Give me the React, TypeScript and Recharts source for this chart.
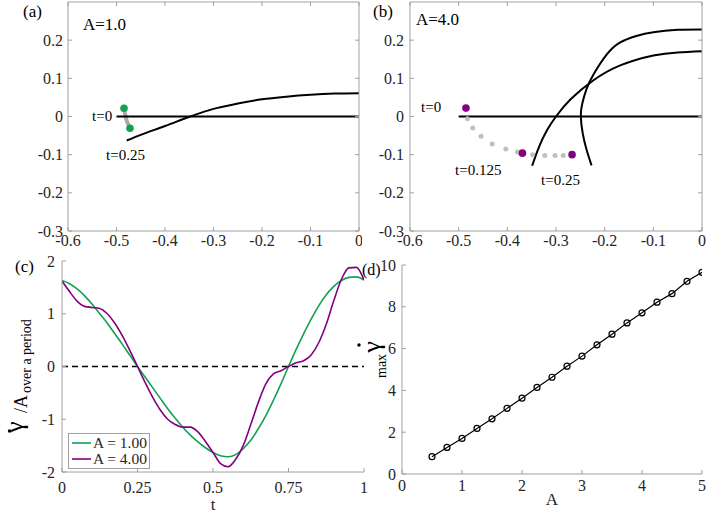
import React from 'react';
import { ComposedChart, Line, Scatter, XAxis, YAxis, ReferenceLine, Legend, Customized } from 'recharts';

const FONT = 'Liberation Serif, Times New Roman, Times, serif';
const AXIS = '#a0a0a0';
const TXT = '#262626';
const GREEN = '#12a150';
const PURPLE = '#820082';
const GRAY_DOT = '#c0c0c0';
const GRAY_PATH = '#aaaaaa';

// ---------- panels (a) and (b) ----------
const xTicksAB = [-0.6, -0.5, -0.4, -0.3, -0.2, -0.1, 0];
const yTicksAB = [-0.3, -0.2, -0.1, 0, 0.1, 0.2];

const baseLineA = [{ x: -0.5, y: 0 }, { x: 0, y: 0 }];
const filamentA = [
  { x: -0.479, y: -0.063 }, { x: -0.45, y: -0.048 }, { x: -0.4, y: -0.025 }, { x: -0.348, y: 0 },
  { x: -0.3, y: 0.02 }, { x: -0.25, y: 0.034 }, { x: -0.2, y: 0.045 }, { x: -0.15, y: 0.052 },
  { x: -0.1, y: 0.057 }, { x: -0.05, y: 0.06 }, { x: 0, y: 0.061 },
];
const tracePathA = [
  { x: -0.4845, y: 0.0217 }, { x: -0.482, y: 0.004 }, { x: -0.478, y: -0.014 }, { x: -0.4722, y: -0.0306 },
];
const endDotsA = [{ x: -0.4845, y: 0.0217 }, { x: -0.4722, y: -0.0306 }];

const baseLineB = [{ x: -0.5, y: 0 }, { x: 0, y: 0 }];
const filamentB1 = [
  { x: -0.349, y: -0.129 }, { x: -0.335, y: -0.08 }, { x: -0.318, y: -0.035 }, { x: -0.3, y: 0 },
  { x: -0.27, y: 0.045 }, { x: -0.223, y: 0.095 }, { x: -0.168, y: 0.134 }, { x: -0.1, y: 0.16 },
  { x: -0.05, y: 0.168 }, { x: 0, y: 0.171 },
];
const filamentB2 = [
  { x: -0.227, y: -0.128 }, { x: -0.237, y: -0.088 }, { x: -0.245, y: -0.045 }, { x: -0.249, y: 0 },
  { x: -0.246, y: 0.034 }, { x: -0.237, y: 0.073 }, { x: -0.223, y: 0.11 }, { x: -0.196, y: 0.162 },
  { x: -0.168, y: 0.194 }, { x: -0.135, y: 0.211 }, { x: -0.1, y: 0.221 }, { x: -0.05, y: 0.227 },
  { x: 0, y: 0.228 },
];
const traceDotsB = [
  { x: -0.482, y: -0.006 }, { x: -0.471, y: -0.03 }, { x: -0.454, y: -0.052 }, { x: -0.431, y: -0.072 },
  { x: -0.403, y: -0.085 }, { x: -0.379, y: -0.093 }, { x: -0.348, y: -0.1 }, { x: -0.323, y: -0.102 },
  { x: -0.302, y: -0.102 }, { x: -0.285, y: -0.102 },
];
const keyDotsB = [{ x: -0.485, y: 0.022 }, { x: -0.369, y: -0.096 }, { x: -0.267, y: -0.1 }];

// ---------- panel (c) ----------
const tC = [
  0, 0.025, 0.05, 0.075, 0.1, 0.125, 0.15, 0.175, 0.2, 0.225, 0.25, 0.275, 0.3, 0.325, 0.35, 0.375, 0.4,
  0.425, 0.45, 0.475, 0.5, 0.525, 0.55, 0.575, 0.6, 0.625, 0.65, 0.675, 0.7, 0.725, 0.75, 0.775, 0.8,
  0.825, 0.85, 0.875, 0.9, 0.925, 0.95, 0.975, 1,
];
const rateA1 = [
  1.63, 1.57, 1.47, 1.34, 1.18, 1.0, 0.82, 0.62, 0.42, 0.21, 0.0, -0.2, -0.4, -0.6, -0.8, -0.98, -1.15,
  -1.3, -1.43, -1.54, -1.63, -1.69, -1.71, -1.67, -1.56, -1.4, -1.18, -0.93, -0.64, -0.33, 0.0, 0.32, 0.62,
  0.9, 1.15, 1.36, 1.52, 1.63, 1.69, 1.7, 1.64,
];
const rateA4 = [
  1.62, 1.42, 1.24, 1.14, 1.12, 1.1, 1.0, 0.82, 0.58, 0.3, 0.0, -0.3, -0.58, -0.82, -1.0, -1.1, -1.15,
  -1.15, -1.24, -1.42, -1.63, -1.84, -1.9, -1.76, -1.5, -1.1, -0.68, -0.33, -0.14, -0.08, 0.0, 0.07, 0.11,
  0.22, 0.45, 0.8, 1.25, 1.65, 1.87, 1.88, 1.64,
];
const xTicksC = [0, 0.25, 0.5, 0.75, 1];
const yTicksC = [-2, -1, 0, 1, 2];
const dataC = tC.map((t, i) => ({ t, a1: rateA1[i], a4: rateA4[i] }));

// ---------- panel (d) ----------
const ampD = [0.5, 0.75, 1, 1.25, 1.5, 1.75, 2, 2.25, 2.5, 2.75, 3, 3.25, 3.5, 3.75, 4, 4.25, 4.5, 4.75, 5];
const maxRateD = [0.83, 1.27, 1.7, 2.18, 2.64, 3.14, 3.63, 4.14, 4.63, 5.16, 5.64, 6.18, 6.69, 7.23, 7.71, 8.22, 8.63, 9.22, 9.65];
const xTicksD = [0, 1, 2, 3, 4, 5];
const yTicksD = [0, 2, 4, 6, 8, 10];
const dataD = ampD.map((a, i) => ({ a, g: maxRateD[i] }));

const axisLine = { stroke: AXIS, strokeWidth: 1 };
const TL = 4; // inward tick length

// custom tick: inward tick mark + label (label offset m from the axis line)
const makeTick = (side: 'bottom' | 'left' | 'top' | 'right', m: number, label = true) => (p: any) => {
  const { x, y, payload } = p;
  const v = payload && payload.value;
  const txt = String(v);
  if (side === 'bottom') {
    const ay = y - m;
    return (
      <g>
        <line x1={x} x2={x} y1={ay} y2={ay - TL} stroke={AXIS} strokeWidth={1} />
        {label && <text x={x} y={y} dy="0.72em" textAnchor="middle" fill={TXT} fontSize={16} style={{ fontFamily: FONT }}>{txt}</text>}
      </g>
    );
  }
  if (side === 'left') {
    const ax = x + m;
    return (
      <g>
        <line x1={ax} x2={ax + TL} y1={y} y2={y} stroke={AXIS} strokeWidth={1} />
        {label && <text x={x} y={y} dy="0.35em" textAnchor="end" fill={TXT} fontSize={16} style={{ fontFamily: FONT }}>{txt}</text>}
      </g>
    );
  }
  if (side === 'top') {
    const ay = y + m;
    return <line x1={x} x2={x} y1={ay} y2={ay + TL} stroke={AXIS} strokeWidth={1} />;
  }
  const ax = x - m;
  return <line x1={ax} x2={ax - TL} y1={y} y2={y} stroke={AXIS} strokeWidth={1} />;
};

const dotShape = (color: string, r: number) => (p: any) => <circle cx={p.cx} cy={p.cy} r={r} fill={color} stroke="none" />;

const legendContent = (props: any) => {
  const payload = props.payload || [];
  return (
    <div style={{ border: `1px solid ${AXIS}`, background: '#fff', padding: '1px 2px 1px 3px', fontFamily: FONT, fontSize: 15.5, color: TXT, lineHeight: '16px' }}>
      {payload.map((e: any) => (
        <div key={e.value} style={{ display: 'flex', alignItems: 'center', height: 16 }}>
          <svg width={21} height={16} style={{ display: 'block' }}>
            <line x1={0} x2={19} y1={8} y2={8} stroke={e.color} strokeWidth={1.6} />
          </svg>
          <span style={{ whiteSpace: 'nowrap' }}>{e.value}</span>
        </div>
      ))}
    </div>
  );
};

const T = (props: any) => <text {...props} style={{ fontFamily: FONT }} />;

export default function App() {
  return (
    <div style={{ position: 'absolute', left: 0, top: 0, width: 706, height: 513, background: '#fff', fontFamily: FONT }}>
      {/* (a) */}
      <div style={{ position: 'absolute', left: 0, top: 0 }}>
        <ComposedChart width={362} height={250} margin={{ top: 1, right: 2, bottom: 0, left: 18 }}>
          <XAxis xAxisId={0} type="number" dataKey="x" domain={[-0.6, 0]} ticks={xTicksAB} interval={0} height={19}
            tickSize={0} tickMargin={3} axisLine={axisLine} tickLine={false} tick={makeTick('bottom', 3)} allowDataOverflow />
          <XAxis xAxisId="top" orientation="top" type="number" dataKey="x" domain={[-0.6, 0]} ticks={xTicksAB} interval={0}
            height={1} tickSize={0} tickMargin={0} tickLine={false} tick={makeTick('top', 0, false)} axisLine={axisLine} allowDataOverflow />
          <YAxis yAxisId={0} type="number" dataKey="y" domain={[-0.3, 0.3]} ticks={yTicksAB} interval={0} width={50}
            tickSize={0} tickMargin={5} axisLine={axisLine} tickLine={false} tick={makeTick('left', 5)} allowDataOverflow />
          <YAxis yAxisId="right" orientation="right" type="number" dataKey="y" domain={[-0.3, 0.3]} ticks={yTicksAB} interval={0}
            width={1} tickSize={0} tickMargin={0} tickLine={false} tick={makeTick('right', 0, false)} axisLine={axisLine} allowDataOverflow />
          <Line data={tracePathA} dataKey="y" type="natural" stroke={GRAY_PATH} strokeWidth={4} strokeLinecap="round" dot={false} isAnimationActive={false} />
          <Line data={baseLineA} dataKey="y" type="linear" stroke="#000" strokeWidth={2} dot={false} isAnimationActive={false} />
          <Line data={filamentA} dataKey="y" type="monotone" stroke="#000" strokeWidth={2} dot={false} isAnimationActive={false} />
          <Scatter data={endDotsA} dataKey="y" shape={dotShape(GREEN, 3.8)} isAnimationActive={false} />
          <Customized component={() => (
            <g fill="#000">
              <T x={23} y={17} fontSize={17}>(a)</T>
              <T x={83} y={30} fontSize={17}>A=1.0</T>
              <T x={92} y={121} fontSize={15}>t=0</T>
              <T x={106} y={160} fontSize={15}>t=0.25</T>
            </g>
          )} />
        </ComposedChart>
      </div>

      {/* (b) */}
      <div style={{ position: 'absolute', left: 358, top: 0 }}>
        <ComposedChart width={348} height={250} margin={{ top: 1, right: 3, bottom: 0, left: 2 }}>
          <XAxis xAxisId={0} type="number" dataKey="x" domain={[-0.6, 0]} ticks={xTicksAB} interval={0} height={19}
            tickSize={0} tickMargin={3} axisLine={axisLine} tickLine={false} tick={makeTick('bottom', 3)} allowDataOverflow />
          <XAxis xAxisId="top" orientation="top" type="number" dataKey="x" domain={[-0.6, 0]} ticks={xTicksAB} interval={0}
            height={1} tickSize={0} tickMargin={0} tickLine={false} tick={makeTick('top', 0, false)} axisLine={axisLine} allowDataOverflow />
          <YAxis yAxisId={0} type="number" dataKey="y" domain={[-0.3, 0.3]} ticks={yTicksAB} interval={0} width={50}
            tickSize={0} tickMargin={6} axisLine={axisLine} tickLine={false} tick={makeTick('left', 6)} allowDataOverflow />
          <YAxis yAxisId="right" orientation="right" type="number" dataKey="y" domain={[-0.3, 0.3]} ticks={yTicksAB} interval={0}
            width={1} tickSize={0} tickMargin={0} tickLine={false} tick={makeTick('right', 0, false)} axisLine={axisLine} allowDataOverflow />
          <Scatter data={traceDotsB} dataKey="y" shape={dotShape(GRAY_DOT, 2.5)} isAnimationActive={false} />
          <Line data={baseLineB} dataKey="y" type="linear" stroke="#000" strokeWidth={2} dot={false} isAnimationActive={false} />
          <Line data={filamentB1} dataKey="y" type="natural" stroke="#000" strokeWidth={2} dot={false} isAnimationActive={false} />
          <Line data={filamentB2} dataKey="y" type="natural" stroke="#000" strokeWidth={2} dot={false} isAnimationActive={false} />
          <Scatter data={keyDotsB} dataKey="y" shape={dotShape(PURPLE, 3.8)} isAnimationActive={false} />
          <Customized component={() => (
            <g fill="#000">
              <T x={15} y={17} fontSize={17}>(b)</T>
              <T x={58} y={25} fontSize={17}>A=4.0</T>
              <T x={63} y={112} fontSize={15}>t=0</T>
              <T x={97} y={175} fontSize={15}>t=0.125</T>
              <T x={183} y={185} fontSize={15}>t=0.25</T>
            </g>
          )} />
        </ComposedChart>
      </div>

      {/* (c) */}
      <div style={{ position: 'absolute', left: 0, top: 250 }}>
        <ComposedChart width={370} height={263} data={dataC} margin={{ top: 11, right: 6, bottom: 0, left: 12 }}>
          <XAxis type="number" dataKey="t" domain={[0, 1]} ticks={xTicksC} interval={0} height={41}
            tickSize={0} tickMargin={9} axisLine={axisLine} tickLine={false} tick={makeTick('bottom', 9)} allowDataOverflow
            label={{ value: 't', position: 'insideBottom', offset: 3, fill: TXT, fontSize: 17, style: { fontFamily: FONT } }} />
          <YAxis type="number" domain={[-2, 2]} ticks={yTicksC} interval={0} width={50}
            tickSize={0} tickMargin={7} axisLine={axisLine} tickLine={false} tick={makeTick('left', 7)} allowDataOverflow />
          <ReferenceLine y={0} stroke="#000" strokeWidth={1.3} strokeDasharray="6 4" />
          <Line dataKey="a1" name="A = 1.00" type="monotone" stroke={GREEN} strokeWidth={1.6} dot={false} isAnimationActive={false} />
          <Line dataKey="a4" name="A = 4.00" type="monotone" stroke={PURPLE} strokeWidth={1.6} dot={false} isAnimationActive={false} />
          <Legend layout="horizontal" verticalAlign="middle" align="center" content={legendContent}
            wrapperStyle={{ left: 68, top: 183, width: 'auto', height: 'auto' }} />
          <Customized component={() => (
            <g fill="#000">
              <T x={15} y={22} fontSize={17}>(c)</T>
              <circle cx={9.5} cy={181} r={1.7} fill="#000" />
              <g transform="translate(23,177) rotate(-90)">
                <T x={0} y={0} fontSize={25} textAnchor="middle">γ</T>
              </g>
              <g transform="translate(27,163) rotate(-90)">
                <T x={0} y={0} fontSize={18}>/A</T>
              </g>
              <g transform="translate(31,143) rotate(-90)">
                <T x={0} y={0} fontSize={14}>over a period</T>
              </g>
            </g>
          )} />
        </ComposedChart>
      </div>

      {/* (d) */}
      <div style={{ position: 'absolute', left: 353, top: 250 }}>
        <ComposedChart width={353} height={263} data={dataD} margin={{ top: 15, right: 4, bottom: 0, left: 9 }}>
          <XAxis type="number" dataKey="a" domain={[0, 5]} ticks={xTicksD} interval={0} height={39}
            tickSize={0} tickMargin={5} axisLine={axisLine} tickLine={false} tick={makeTick('bottom', 5)} allowDataOverflow
            label={{ value: 'A', position: 'insideBottom', offset: 8, fill: TXT, fontSize: 17, style: { fontFamily: FONT } }} />
          <YAxis type="number" domain={[0, 10]} ticks={yTicksD} interval={0} width={40}
            tickSize={0} tickMargin={6} axisLine={axisLine} tickLine={false} tick={makeTick('left', 6)} allowDataOverflow />
          <Line dataKey="g" type="linear" stroke="#000" strokeWidth={1.2} isAnimationActive={false}
            dot={{ r: 3, stroke: '#000', strokeWidth: 1.2, fill: 'none' }} />
          <Customized component={() => (
            <g fill="#000">
              <T x={9} y={25} fontSize={16}>(d)</T>
              <circle cx={6} cy={95} r={1.7} fill="#000" />
              <g transform="translate(27,97) rotate(-90)">
                <T x={0} y={0} fontSize={26} textAnchor="middle">γ</T>
              </g>
              <g transform="translate(33,128) rotate(-90)">
                <T x={0} y={0} fontSize={14}>max</T>
              </g>
            </g>
          )} />
        </ComposedChart>
      </div>
    </div>
  );
}
